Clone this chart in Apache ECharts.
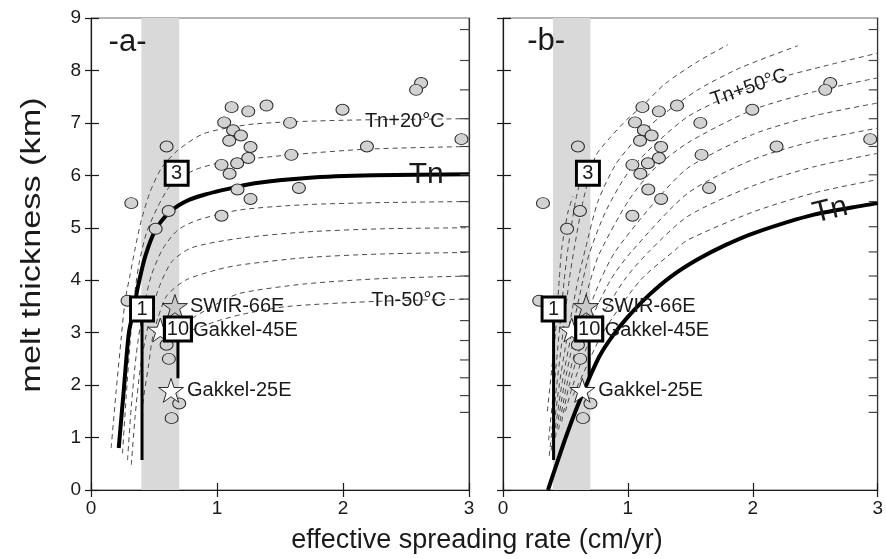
<!DOCTYPE html>
<html>
<head>
<meta charset="utf-8">
<script src="https://cdn.jsdelivr.net/npm/echarts@6/dist/echarts.min.js"></script>
<style>
  html, body { margin: 0; padding: 0; background: #fff; }
  #chart { width: 886px; height: 559px; }
</style>
</head>
<body>
<div id="chart"></div>
<script>
// ---- observed melt thickness vs effective spreading rate ----
const obsRate  = [2.62, 2.58, 1.116, 1.248, 1.393, 1.996, 1.057, 1.58, 1.128, 1.19, 1.097, 2.94, 0.60, 1.266, 2.19, 1.59,
                  1.248, 1.16, 1.036, 1.10, 1.163, 1.65, 1.266, 0.32, 0.616, 1.036, 0.513, 0.29, 0.60, 0.618, 0.70, 0.64];
const obsThick = [7.76, 7.63, 7.30, 7.22, 7.33, 7.25, 7.01, 7.00, 6.86, 6.76, 6.66, 6.69, 6.55, 6.54, 6.55, 6.39,
                  6.33, 6.23, 6.20, 6.03, 5.73, 5.76, 5.55, 5.47, 5.32, 5.23, 4.98, 3.61, 2.77, 2.50, 1.65, 1.37];

// ---- named ridge sites ----
const starNames = ['SWIR-66E', 'Gakkel-45E', 'Gakkel-25E'];
const starRate  = [0.666, 0.55, 0.635];
const starThick = [3.50, 3.05, 1.90];

// ---- numbered reference sites, with the lower end of their ranges ----
const boxLabels = ['1', '10', '3'];
const boxRate   = [0.405, 0.69, 0.68];
const boxThick  = [3.45, 3.07, 6.04];
const boxLow    = [0.57, 2.13, null];

// ---- ultra-slow spreading band (cm/yr) ----
const bandRange = [0.4, 0.7];

// ---- right-hand temperature ticks (km equivalents) ----
const tempTicks = [8.78, 8.19, 7.63, 7.08, 6.55, 6.01, 5.50, 5.02, 4.54, 4.08, 3.64, 3.23, 2.85, 2.48, 2.14, 1.80, 1.48];

// ---- axis ticks ----
const rateTicks  = [0, 1, 2, 3];
const thickTicks = [0, 1, 2, 3, 4, 5, 6, 7, 8, 9];

// ---- model (a): Tn and 10 °C steps ----
const aTn  = [[0.22,0.8],[0.26,1.9],[0.30,2.99],[0.34,3.45],[0.37,3.85],[0.43,4.45],[0.51,4.95],[0.616,5.28],[0.75,5.5],[0.9,5.63],[1.14,5.77],[1.3,5.85],[1.71,5.95],[2.24,6.0],[3.0,6.02]];
const aP20 = [[0.16,0.8],[0.2,1.9],[0.24,2.9],[0.27,3.6],[0.31,4.1],[0.35,4.6],[0.40,5.15],[0.47,5.69],[0.56,6.14],[0.69,6.48],[0.9,6.8],[1.3,6.98],[2.0,7.05],[3.0,7.08]];
const aP10 = [[0.25,0.7],[0.28,1.8],[0.31,2.8],[0.34,3.6],[0.38,4.3],[0.44,4.9],[0.53,5.4],[0.63,5.8],[0.82,6.1],[1.05,6.25],[1.58,6.39],[2.2,6.5],[3.0,6.55]];
const aM10 = [[0.29,0.57],[0.32,1.6],[0.36,2.6],[0.41,3.4],[0.48,4.1],[0.57,4.6],[0.69,4.96],[0.85,5.15],[1.18,5.34],[1.7,5.44],[2.3,5.48],[3.0,5.50]];
const aM20 = [[0.32,0.48],[0.35,1.4],[0.39,2.3],[0.45,3.1],[0.53,3.8],[0.64,4.35],[0.8,4.62],[1.18,4.80],[1.7,4.92],[2.3,4.98],[3.0,5.0]];
const aM30 = [[0.40,1.3],[0.415,1.72],[0.455,2.35],[0.49,2.93],[0.534,3.3],[0.6,3.7],[0.75,4.0],[1.0,4.2],[1.18,4.29],[1.7,4.43],[2.3,4.5],[3.0,4.53]];
const aM40 = [[0.55,2.7],[0.65,3.05],[0.82,3.3],[1.0,3.55],[1.18,3.75],[1.7,3.93],[2.3,4.03],[3.0,4.08]];
const aM50 = [[0.8,3.05],[1.0,3.22],[1.2,3.35],[1.56,3.5],[2.3,3.6],[3.0,3.64]];

// ---- model (b): Tn and hotter mantle in 10 °C steps ----
const bTn  = [[0.36,0.0],[0.43,0.5],[0.505,1.02],[0.58,1.5],[0.65,1.91],[0.77,2.54],[0.875,2.93],[1.0,3.3],[1.17,3.72],[1.35,4.08],[1.56,4.4],[1.78,4.67],[2.01,4.9],[2.49,5.25],[3.0,5.47]];
const bD1  = [[0.56,1.8],[0.60,2.0],[0.80,3.0],[1.1,4.0],[1.38,4.58],[1.48,4.77],[2.0,5.3],[2.5,5.67],[3.0,5.92]];
const bD2  = [[0.50,1.5],[0.56,2.0],[0.72,3.0],[0.97,4.0],[1.17,4.55],[1.48,5.22],[2.0,5.8],[2.5,6.17],[3.0,6.42]];
const bD3  = [[0.47,1.3],[0.53,2.0],[0.66,3.0],[0.86,4.0],[1.03,4.55],[1.48,5.66],[2.0,6.3],[2.5,6.66],[3.0,6.90]];
const bD4  = [[0.445,1.15],[0.51,2.0],[0.62,3.0],[0.78,4.0],[0.90,4.55],[1.2,5.45],[1.48,6.14],[2.0,6.78],[2.5,7.14],[3.0,7.38]];
const bD5  = [[0.42,1.0],[0.49,2.0],[0.58,3.0],[0.70,4.0],[0.77,4.5],[1.0,5.5],[1.2,6.1],[1.48,6.62],[2.0,7.25],[2.5,7.6],[3.0,7.86]];
const bD6  = [[0.40,0.85],[0.47,2.0],[0.55,3.0],[0.64,4.0],[0.69,4.5],[0.82,5.3],[1.0,6.05],[1.22,6.6],[1.48,7.12],[1.8,7.5],[2.2,7.85],[2.6,8.1],[3.0,8.33]];
const bD7  = [[0.385,0.75],[0.45,2.0],[0.52,3.0],[0.6,4.0],[0.66,4.6],[0.76,5.5],[0.9,6.2],[1.05,6.65],[1.25,7.1],[1.56,7.63],[1.9,8.05],[2.36,8.47]];
const bD8  = [[0.37,0.65],[0.43,2.0],[0.48,3.0],[0.53,4.0],[0.57,4.6],[0.64,5.5],[0.74,6.36],[0.85,6.7],[0.99,7.06],[1.11,7.31],[1.3,7.75],[1.56,8.17],[1.8,8.49]];
const bD9  = [[0.365,0.95],[0.41,2.0],[0.45,3.0],[0.49,4.0],[0.52,4.6],[0.58,5.5],[0.62,5.9]];
const bD10 = [[0.355,1.5],[0.39,2.3],[0.42,3.0],[0.45,4.0],[0.47,4.6],[0.52,5.3],[0.56,5.6]];

const FONT = "'Liberation Sans', Arial, sans-serif";
const INK = '#1a1a1a';

const panels = [
  { tn: aTn, curves: [aP20, aP10, aM10, aM20, aM30, aM40, aM50],
    notes: [
      { at: [0.29, 8.53], text: '-a-', size: 31, rotate: 0 },
      { at: [2.49, 7.02], text: 'Tn+20°C', size: 20, rotate: 0 },
      { at: [2.66, 6.02], text: 'Tn', size: 30, rotate: 0 },
      { at: [2.52, 3.62], text: 'Tn-50°C', size: 20, rotate: 0 }
    ] },
  { tn: bTn, curves: [bD1, bD2, bD3, bD4, bD5, bD6, bD7, bD8, bD9, bD10],
    notes: [
      { at: [0.345, 8.55], text: '-b-', size: 31, rotate: 0 },
      { at: [1.97, 7.67], text: 'Tn+50°C', size: 20, rotate: 19 },
      { at: [2.62, 5.33], text: 'Tn', size: 30, rotate: 14 }
    ] }
];

const starPath = 'path://M12,0 L14.8,8.6 L23.8,8.6 L16.5,13.9 L19.3,22.6 L12,17.3 L4.7,22.6 L7.5,13.9 L0.2,8.6 L9.2,8.6 Z';
const starFill = { 'SWIR-66E': '#c9c9c9', 'Gakkel-45E': '#ffffff', 'Gakkel-25E': '#ffffff' };
const starGap  = { 'SWIR-66E': 2, 'Gakkel-45E': 20, 'Gakkel-25E': 3 };

const grids = [], xAxes = [], yAxes = [], series = [];

panels.forEach((p, gi) => {
  grids.push({ left: gi === 0 ? 91 : 503, top: 18, width: 378, height: 472,
               show: true, borderColor: '#6a6a6a', borderWidth: 1, backgroundColor: 'transparent' });

  const xBase = { gridIndex: gi, type: 'value', min: rateTicks[0], max: rateTicks[rateTicks.length - 1], interval: 1,
                  splitLine: { show: false } };
  xAxes.push(Object.assign({}, xBase, {
    position: 'bottom',
    axisLine: { lineStyle: { color: INK, width: 1.2 } },
    axisTick: { inside: true, length: 7, lineStyle: { color: INK, width: 1.2 } },
    axisLabel: { fontSize: 19, color: INK, margin: 9, fontFamily: FONT }
  }));
  xAxes.push(Object.assign({}, xBase, {
    position: 'bottom',
    axisLine: { show: false },
    axisTick: { inside: false, length: 7, lineStyle: { color: INK, width: 1.2 } },
    axisLabel: { show: false }
  }));

  const yBase = { gridIndex: gi, type: 'value', min: thickTicks[0], max: thickTicks[thickTicks.length - 1], interval: 1,
                  splitLine: { show: false } };
  yAxes.push(Object.assign({}, yBase, {
    position: 'left',
    axisLine: { lineStyle: { color: INK, width: 1.2 } },
    axisTick: { inside: true, length: 8, lineStyle: { color: INK, width: 1.2 } },
    axisLabel: { show: gi === 0, fontSize: 19, color: INK, margin: 10, fontFamily: FONT }
  }));
  yAxes.push(Object.assign({}, yBase, {
    position: 'left',
    axisLine: { show: false },
    axisTick: { inside: false, length: 6, lineStyle: { color: INK, width: 1.2 } },
    axisLabel: { show: false }
  }));
  yAxes.push(Object.assign({}, yBase, {
    position: 'right',
    axisLine: { show: true, lineStyle: { color: '#333', width: 1.2 } },
    axisTick: { show: false },
    axisLabel: { show: false }
  }));

  const xi = gi * 2, yi = gi * 3;

  // shaded band
  series.push({
    type: 'line', xAxisIndex: xi, yAxisIndex: yi, data: [], z: 1, silent: true,
    markArea: { silent: true, itemStyle: { color: '#d9d9d9' },
                data: [[{ xAxis: bandRange[0] }, { xAxis: bandRange[1] }]] }
  });

  // model curves, dashed
  p.curves.forEach(c => {
    series.push({
      type: 'line', xAxisIndex: xi, yAxisIndex: yi, data: c, showSymbol: false, smooth: 0.25, z: 2, silent: true,
      lineStyle: { color: '#4a4a4a', width: 1, type: [5, 4] }
    });
  });

  // reference potential temperature Tn
  series.push({
    type: 'line', xAxisIndex: xi, yAxisIndex: yi, data: p.tn, showSymbol: false, smooth: 0.25, z: 3, silent: true,
    lineStyle: { color: '#000', width: 4 }
  });

  // ranges under the numbered sites
  boxLabels.forEach((b, i) => {
    if (boxLow[i] === null) return;
    series.push({
      type: 'line', xAxisIndex: xi, yAxisIndex: yi, showSymbol: false, z: 4, silent: true,
      data: [[boxRate[i], boxThick[i]], [boxRate[i], boxLow[i]]],
      lineStyle: { color: '#000', width: 3 }
    });
  });

  // temperature ticks along the right frame, pointing inward
  series.push({
    type: 'custom', xAxisIndex: xi, yAxisIndex: yi, z: 9, silent: true, clip: false,
    data: tempTicks.map(v => [rateTicks[rateTicks.length - 1], v]),
    renderItem: (params, api) => {
      const pt = api.coord([api.value(0), api.value(1)]);
      return { type: 'line', shape: { x1: pt[0] - 9, y1: pt[1], x2: pt[0], y2: pt[1] },
               style: { stroke: '#444', lineWidth: 1.2 } };
    }
  });

  // observations
  series.push({
    type: 'scatter', xAxisIndex: xi, yAxisIndex: yi, z: 5, silent: true,
    data: obsRate.map((r, i) => [r, obsThick[i]]),
    symbol: 'circle', symbolSize: [13, 11],
    itemStyle: { color: '#d2d2d2', borderColor: '#2a2a2a', borderWidth: 1, opacity: 1 }
  });

  // named sites
  series.push({
    type: 'scatter', xAxisIndex: xi, yAxisIndex: yi, z: 6, silent: true,
    symbol: starPath, symbolSize: 25, symbolKeepAspect: true,
    data: starNames.map((n, i) => ({
      value: [starRate[i], starThick[i]], name: n,
      itemStyle: { color: starFill[n], borderColor: '#2a2a2a', borderWidth: 1, opacity: 1 },
      label: { distance: starGap[n] }
    })),
    itemStyle: { opacity: 1 },
    label: { show: true, position: 'right', formatter: '{b}', fontSize: 20, color: INK, opacity: 1, fontFamily: FONT }
  });

  // numbered sites
  series.push({
    type: 'scatter', xAxisIndex: xi, yAxisIndex: yi, z: 7, silent: true,
    symbol: 'rect',
    data: boxLabels.map((b, i) => ({
      value: [boxRate[i], boxThick[i]], name: b,
      symbolSize: b.length > 1 ? [27, 24] : [23, 24]
    })),
    itemStyle: { color: '#fff', borderColor: '#000', borderWidth: 3, opacity: 1 },
    label: { show: true, position: 'inside', formatter: '{b}', fontSize: 20, color: INK, opacity: 1, fontFamily: FONT }
  });

  // panel tags and curve annotations
  series.push({
    type: 'scatter', xAxisIndex: xi, yAxisIndex: yi, z: 8, silent: true,
    symbolSize: 0, itemStyle: { opacity: 1 },
    data: p.notes.map(n => ({
      value: n.at,
      label: { show: true, position: 'inside', formatter: n.text, fontSize: n.size, rotate: n.rotate,
               color: INK, opacity: 1, fontFamily: FONT }
    }))
  });
});

const chart = echarts.init(document.getElementById('chart'), null, { renderer: 'canvas' });
chart.setOption({
  animation: false,
  backgroundColor: '#fff',
  grid: grids,
  xAxis: xAxes,
  yAxis: yAxes,
  series: series,
  graphic: [
    { type: 'text', x: 477, y: 527,
      style: { text: 'effective spreading rate (cm/yr)', fontSize: 27, fill: INK, fontFamily: FONT,
               align: 'center', verticalAlign: 'top' } },
    // axis title runs along the frame, drawn a little elongated
    { type: 'text', x: 19, y: 245, rotation: Math.PI / 2, scaleX: 1.27, scaleY: 1,
      style: { text: 'melt thickness (km)', fontSize: 27, fill: INK, fontFamily: FONT,
               align: 'center', verticalAlign: 'top' } }
  ]
});
</script>
</body>
</html>
